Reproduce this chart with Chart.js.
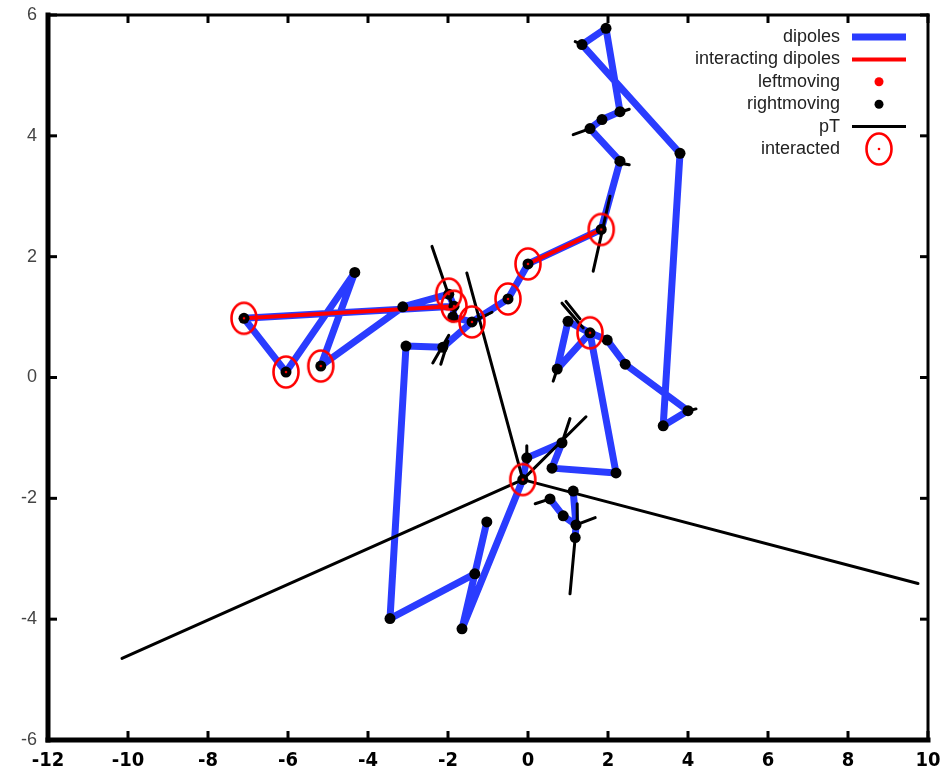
<!DOCTYPE html>
<html lang="en">
<head>
    <meta charset="UTF-8">
    <title>Dipoles</title>
    <script src="https://cdn.jsdelivr.net/npm/chart.js"></script>
    <style>
        body { margin: 0; background: #fff; }
    </style>
</head>
<body>
    <canvas id="dipoleChart" width="949" height="777"></canvas>

    <script>
        // Tick values
        const xTicks = [-12, -10, -8, -6, -4, -2, 0, 2, 4, 6, 8, 10];
        const yTicks = [-6, -4, -2, 0, 2, 4, 6];

        // Dipole chains, [x, y] pairs, null = break in the line
        const dipoles = [
            [-7.10, 0.98], [-6.05, 0.09], [-4.33, 1.74], [-5.18, 0.19], [-3.13, 1.17],
            [-1.98, 1.38], [-1.85, 1.18], [-1.88, 1.00], [-1.40, 0.92], null,
            [-7.10, 0.98], [-1.85, 1.18], null,
            [-3.05, 0.52], [-2.13, 0.50], [-1.40, 0.92], [-0.50, 1.30], [0.00, 1.88],
            [1.83, 2.45], [2.30, 3.58], [1.55, 4.12], [1.85, 4.27], [2.30, 4.40],
            [1.95, 5.78], [1.35, 5.51], [3.80, 3.71], [3.38, -0.80], [4.00, -0.55],
            [2.43, 0.22], [1.98, 0.62], [1.55, 0.74], [2.20, -1.58], [0.60, -1.50],
            [0.85, -1.08], [-0.03, -1.33], [-0.13, -1.69], [-1.65, -4.16], [-1.33, -3.25],
            [-3.45, -3.99], [-3.05, 0.52], null,
            [-1.33, -3.25], [-1.03, -2.39], null,
            [1.55, 0.74], [1.00, 0.93], [0.73, 0.14], [1.55, 0.74], null,
            [0.55, -2.01], [0.88, -2.29], [1.20, -2.44], [1.18, -2.65], null,
            [1.13, -1.88], [1.20, -2.44]
        ];

        const interactingDipoles = [
            [-7.10, 0.98], [-1.85, 1.18], null,
            [0.00, 1.88], [1.83, 2.45]
        ];

        const leftmoving = [];

        const rightmoving = [
            [-7.10, 0.98], [-6.05, 0.09], [-4.33, 1.74], [-5.18, 0.19], [-3.13, 1.17],
            [-1.98, 1.38], [-1.85, 1.18], [-1.88, 1.00], [-1.40, 0.92], [-0.50, 1.30],
            [0.00, 1.88], [-3.05, 0.52], [-2.13, 0.50], [-3.45, -3.99], [-1.33, -3.25],
            [-1.03, -2.39], [-1.65, -4.16], [-0.13, -1.69], [-0.03, -1.33], [0.85, -1.08],
            [0.60, -1.50], [0.55, -2.01], [0.88, -2.29], [1.20, -2.44], [1.18, -2.65],
            [1.13, -1.88], [1.95, 5.78], [1.35, 5.51], [3.80, 3.71], [2.30, 4.40],
            [1.85, 4.27], [1.55, 4.12], [2.30, 3.58], [1.83, 2.45], [3.38, -0.80],
            [4.00, -0.55], [2.43, 0.22], [1.98, 0.62], [1.55, 0.74], [1.00, 0.93],
            [0.73, 0.14], [2.20, -1.58]
        ];

        // pT segments
        const pT = [
            [-0.13, -1.69], [-10.15, -4.65], null,
            [-0.13, -1.69], [9.75, -3.41], null,
            [-0.13, -1.69], [-1.53, 1.73], null,
            [-0.13, -1.69], [1.45, -0.65], null,
            [0.85, -1.08], [1.05, -0.68], null,
            [-2.40, 2.17], [-1.78, 0.97], null,
            [-0.03, -1.13], [-0.03, -1.41], null,
            [0.55, -2.01], [0.18, -2.09], null,
            [1.23, -2.09], [1.23, -2.50], null,
            [1.20, -2.44], [1.68, -2.32], null,
            [1.18, -2.65], [1.05, -3.58], null,
            [2.05, 3.00], [1.63, 1.76], null,
            [1.18, 5.56], [1.40, 5.50], null,
            [2.20, 4.37], [2.53, 4.44], null,
            [1.13, 4.02], [1.55, 4.12], null,
            [2.20, 3.56], [2.53, 3.52], null,
            [3.90, -0.57], [4.20, -0.52], null,
            [0.85, 1.23], [1.38, 0.82], null,
            [0.95, 1.26], [1.30, 0.97], null,
            [0.73, 0.14], [0.63, -0.06], null,
            [-2.38, 0.24], [-1.98, 0.70], null,
            [-2.18, 0.22], [-2.00, 0.60], null,
            [-1.40, 0.92], [-0.90, 1.08]
        ];

        const interacted = [
            [-7.10, 0.98], [-6.05, 0.09], [-5.18, 0.19], [-1.98, 1.38], [-1.85, 1.18],
            [-1.40, 0.92], [-0.50, 1.30], [0.00, 1.88], [1.83, 2.45], [1.55, 0.74],
            [-0.13, -1.69]
        ];

        // pairs -> chart points, null becomes a gap
        const toPoints = arr => arr.map(p => p ? { x: p[0], y: p[1] } : { x: null, y: null });

        // open red circle with a dot, slightly taller than wide
        function ringSymbol() {
            const c = document.createElement('canvas');
            c.width = 32; c.height = 38;
            const g = c.getContext('2d');
            g.strokeStyle = '#ff0000';
            g.lineWidth = 2.6;
            g.beginPath();
            g.ellipse(16, 19, 12.5, 15.5, 0, 0, Math.PI * 2);
            g.stroke();
            g.fillStyle = '#ff0000';
            g.beginPath();
            g.arc(16, 19, 1.3, 0, Math.PI * 2);
            g.fill();
            return c;
        }
        const ring = ringSymbol();

        function seg(ctx, x1, y1, x2, y2) {
            ctx.beginPath();
            ctx.moveTo(x1, y1);
            ctx.lineTo(x2, y2);
            ctx.stroke();
        }

        // gnuplot-like border with inward ticks
        const frame = {
            id: 'frame',
            afterDatasetsDraw(chart) {
                const { ctx, chartArea: a, scales: { x, y } } = chart;
                ctx.save();
                ctx.strokeStyle = '#000';
                ctx.lineWidth = 3;
                xTicks.forEach(v => {
                    const px = x.getPixelForValue(v);
                    seg(ctx, px, a.bottom, px, a.bottom - 9);
                    seg(ctx, px, a.top, px, a.top + 8);
                });
                yTicks.forEach(v => {
                    const py = y.getPixelForValue(v);
                    seg(ctx, a.left, py, a.left + 9, py);
                    seg(ctx, a.right, py, a.right - 8, py);
                });
                ctx.lineCap = 'square';
                ctx.lineWidth = 3;
                seg(ctx, a.left, a.top, a.right, a.top);
                seg(ctx, a.right, a.top, a.right, a.bottom);
                ctx.lineWidth = 5;
                seg(ctx, a.left, a.top, a.left, a.bottom);
                seg(ctx, a.left, a.bottom, a.right, a.bottom);
                ctx.restore();
            }
        };

        // key in the top right corner, text right aligned, sample on the right
        const key = {
            id: 'key',
            afterDraw(chart) {
                const { ctx, chartArea: a } = chart;
                const textRight = a.right - 88;
                const x1 = a.right - 76, x2 = a.right - 22, cx = (x1 + x2) / 2;
                ctx.save();
                ctx.font = '18px "Liberation Sans Narrow", "Liberation Sans", Arial, sans-serif';
                ctx.textAlign = 'right';
                ctx.textBaseline = 'middle';
                chart.data.datasets.forEach((ds, i) => {
                    const yy = a.top + 22 + i * 22.4;
                    ctx.fillStyle = '#222';
                    ctx.fillText(ds.label, textRight, yy);
                    if (ds.showLine) {
                        ctx.strokeStyle = ds.borderColor;
                        ctx.lineWidth = ds.borderWidth;
                        seg(ctx, x1, yy, x2, yy);
                    } else if (ds.pointStyle === ring) {
                        ctx.drawImage(ring, cx - ring.width / 2, yy - ring.height / 2);
                    } else {
                        ctx.fillStyle = ds.pointBackgroundColor;
                        ctx.beginPath();
                        ctx.arc(cx, yy, 4.5, 0, Math.PI * 2);
                        ctx.fill();
                    }
                });
                ctx.restore();
            }
        };

        const ctx = document.getElementById('dipoleChart').getContext('2d');
        const dipoleChart = new Chart(ctx, {
            type: 'scatter',
            data: {
                datasets: [
                    {
                        label: 'dipoles',
                        data: toPoints(dipoles),
                        showLine: true,
                        borderColor: '#2a3cff',
                        borderWidth: 7,
                        borderJoinStyle: 'round',
                        borderCapStyle: 'round',
                        pointRadius: 0,
                        order: 6
                    },
                    {
                        label: 'interacting dipoles',
                        data: toPoints(interactingDipoles),
                        showLine: true,
                        borderColor: '#ff0000',
                        borderWidth: 4,
                        borderCapStyle: 'round',
                        pointRadius: 0,
                        order: 5
                    },
                    {
                        label: 'leftmoving',
                        data: toPoints(leftmoving),
                        pointBackgroundColor: '#ff0000',
                        pointBorderWidth: 0,
                        pointRadius: 4,
                        order: 2
                    },
                    {
                        label: 'rightmoving',
                        data: toPoints(rightmoving),
                        pointBackgroundColor: '#000',
                        pointBorderColor: '#000',
                        pointBorderWidth: 0,
                        pointRadius: 5.5,
                        order: 3
                    },
                    {
                        label: 'pT',
                        data: toPoints(pT),
                        showLine: true,
                        borderColor: '#000',
                        borderWidth: 3,
                        borderCapStyle: 'round',
                        pointRadius: 0,
                        order: 4
                    },
                    {
                        label: 'interacted',
                        data: toPoints(interacted),
                        pointStyle: ring,
                        pointRadius: 14,
                        order: 1
                    }
                ]
            },
            options: {
                responsive: false,
                animation: false,
                layout: { padding: { top: 13.5, right: 21, left: 0, bottom: 0 } },
                plugins: {
                    legend: { display: false },
                    tooltip: { enabled: false }
                },
                scales: {
                    x: {
                        type: 'linear',
                        min: -12,
                        max: 10,
                        afterBuildTicks: s => { s.ticks = xTicks.map(v => ({ value: v })); },
                        afterFit: s => { s.height = 37; s.paddingLeft = 0; s.paddingRight = 0; },
                        grid: { display: false, drawTicks: false },
                        border: { display: false },
                        ticks: {
                            padding: 9,
                            color: '#000',
                            font: { family: '"Liberation Sans Narrow", "DejaVu Sans Condensed", sans-serif', size: 20, weight: 'bold' }
                        }
                    },
                    y: {
                        type: 'linear',
                        min: -6,
                        max: 6,
                        afterBuildTicks: s => { s.ticks = yTicks.map(v => ({ value: v })); },
                        afterFit: s => { s.width = 48; s.paddingTop = 0; s.paddingBottom = 0; },
                        grid: { display: false, drawTicks: false },
                        border: { display: false },
                        ticks: {
                            padding: 11,
                            color: '#444',
                            font: { family: '"Liberation Sans", Arial, sans-serif', size: 18 }
                        }
                    }
                }
            },
            plugins: [frame, key]
        });
    </script>
</body>
</html>
